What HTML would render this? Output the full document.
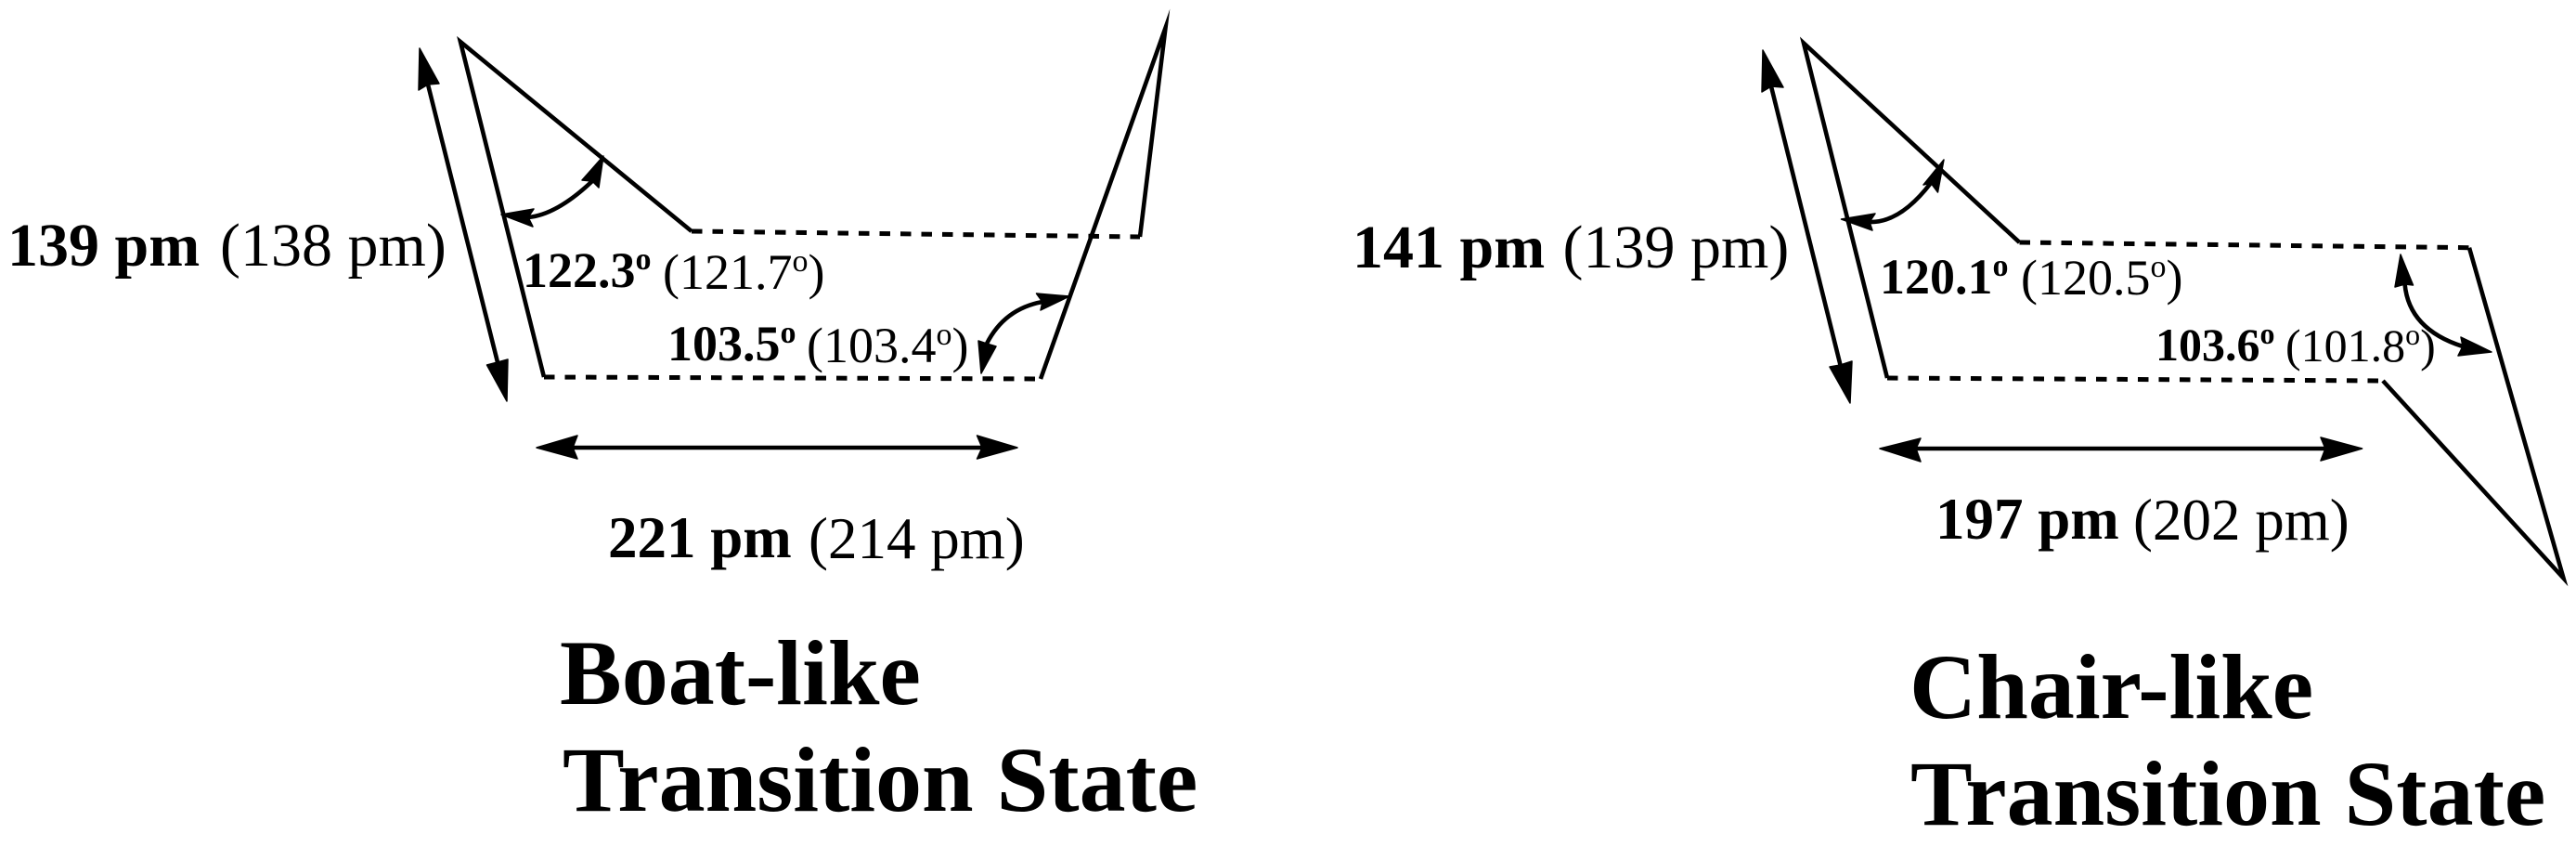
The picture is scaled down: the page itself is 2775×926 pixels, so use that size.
<!DOCTYPE html>
<html>
<head>
<meta charset="utf-8">
<style>
html,body{margin:0;padding:0;background:#fff;width:2775px;height:926px;overflow:hidden}
svg{display:block}
text{font-family:"Liberation Serif",serif;fill:#000}
.b{font-weight:bold}
.l{fill:none;stroke:#000;stroke-width:4.6;stroke-linejoin:miter;stroke-miterlimit:30}
.d{fill:none;stroke:#000;stroke-width:5;stroke-dasharray:11.5 11}
.a{fill:none;stroke:#000;stroke-width:4.6}
polygon{fill:#000;stroke:#000;stroke-width:1.5;stroke-linejoin:round}
</style>
</head>
<body>
<svg width="2775" height="926" viewBox="0 0 2775 926" xmlns="http://www.w3.org/2000/svg">
<rect width="2775" height="926" fill="#fff"/>

<!-- Boat-like -->
<polyline class="l" points="586,406 496,45 745,249"/>
<polyline class="l" points="1121,408 1255.5,30 1228,255"/>
<line class="d" x1="745" y1="249" x2="1228" y2="255"/>
<line class="d" x1="586" y1="406" x2="1121" y2="408"/>

<line class="a" x1="461" y1="91" x2="536" y2="390"/>
<polygon points="452,52 473,90 461,91 451,97"/>
<polygon points="546,432 524.5,393 536,390 547,387"/>

<path class="a" d="M569,234 Q600,231 638,195"/>
<polygon points="540,231 575,225 569,234 574,244"/>
<polygon points="650,168 627,194 638,195 645,202"/>

<path class="a" d="M1123,325 Q1082,332.5 1063,370"/>
<polygon points="1152,319 1116.5,316 1123,325 1121,334"/>
<polygon points="1057,402 1054,367 1063,370 1073,373"/>

<line class="a" x1="617" y1="482" x2="1058" y2="482"/>
<polygon points="578,482 622,469 617,482 622,494"/>
<polygon points="1096,482 1052.5,469 1058,482 1052.5,494"/>

<text class="b" x="8" y="286" font-size="66">139 pm</text>
<text x="237" y="286" font-size="66">(138 pm)</text>
<text class="b" x="563" y="309" font-size="54">122.3<tspan font-size="34" dy="-19">o</tspan></text>
<text x="714" y="311" font-size="54">(121.7<tspan font-size="34" dy="-19">o</tspan><tspan dy="19">)</tspan></text>
<text class="b" x="719" y="388" font-size="54">103.5<tspan font-size="34" dy="-19">o</tspan></text>
<text x="869" y="390" font-size="54">(103.4<tspan font-size="34" dy="-19">o</tspan><tspan dy="19">)</tspan></text>
<text class="b" x="655" y="600" font-size="63">221 pm</text>
<text x="871" y="601" font-size="63">(214 pm)</text>
<text class="b" x="603" y="758" font-size="100">Boat-like</text>
<text class="b" x="606" y="873" font-size="100">Transition State</text>

<!-- Chair-like -->
<polyline class="l" points="2033,407 1943,46.4 2175.5,261"/>
<polyline class="l" points="2567,410 2761.5,622.5 2660,266.7"/>
<line class="d" x1="2175.5" y1="261" x2="2660" y2="266.7"/>
<line class="d" x1="2033" y1="407" x2="2567" y2="410"/>

<line class="a" x1="1908" y1="93" x2="1982.5" y2="393"/>
<polygon points="1899,54 1921,94 1908,93 1898,99"/>
<polygon points="1993,434 1971,395 1982.5,393 1995,389"/>

<path class="a" d="M2014,239 Q2047,240 2080,197"/>
<polygon points="1983.5,236 2020,230 2014,239 2017,248"/>
<polygon points="2094,172 2072,199 2080,197 2087.5,207"/>

<path class="a" d="M2590.6,306 Q2595,354.5 2653,373"/>
<polygon points="2586,274 2580,309 2590.6,306 2599.5,307"/>
<polygon points="2684,379 2651,363 2653,373 2648,383"/>

<line class="a" x1="2064" y1="483" x2="2505" y2="483"/>
<polygon points="2025,483 2069,472 2064,483 2069,497"/>
<polygon points="2544.6,483 2500,471 2505,483 2500,496"/>

<text class="b" x="1457" y="288" font-size="66">141 pm</text>
<text x="1683.5" y="288" font-size="66">(139 pm)</text>
<text class="b" x="2025" y="316" font-size="54">120.1<tspan font-size="34" dy="-19">o</tspan></text>
<text x="2177" y="317" font-size="54">(120.5<tspan font-size="34" dy="-19">o</tspan><tspan dy="19">)</tspan></text>
<text class="b" x="2322" y="388" font-size="50">103.6<tspan font-size="32" dy="-18">o</tspan></text>
<text x="2462" y="389" font-size="50">(101.8<tspan font-size="32" dy="-18">o</tspan><tspan dy="18">)</tspan></text>
<text class="b" x="2085" y="580" font-size="63">197 pm</text>
<text x="2298" y="581" font-size="63">(202 pm)</text>
<text class="b" x="2057" y="773" font-size="100">Chair-like</text>
<text class="b" x="2058" y="888" font-size="100">Transition State</text>
</svg>
</body>
</html>
